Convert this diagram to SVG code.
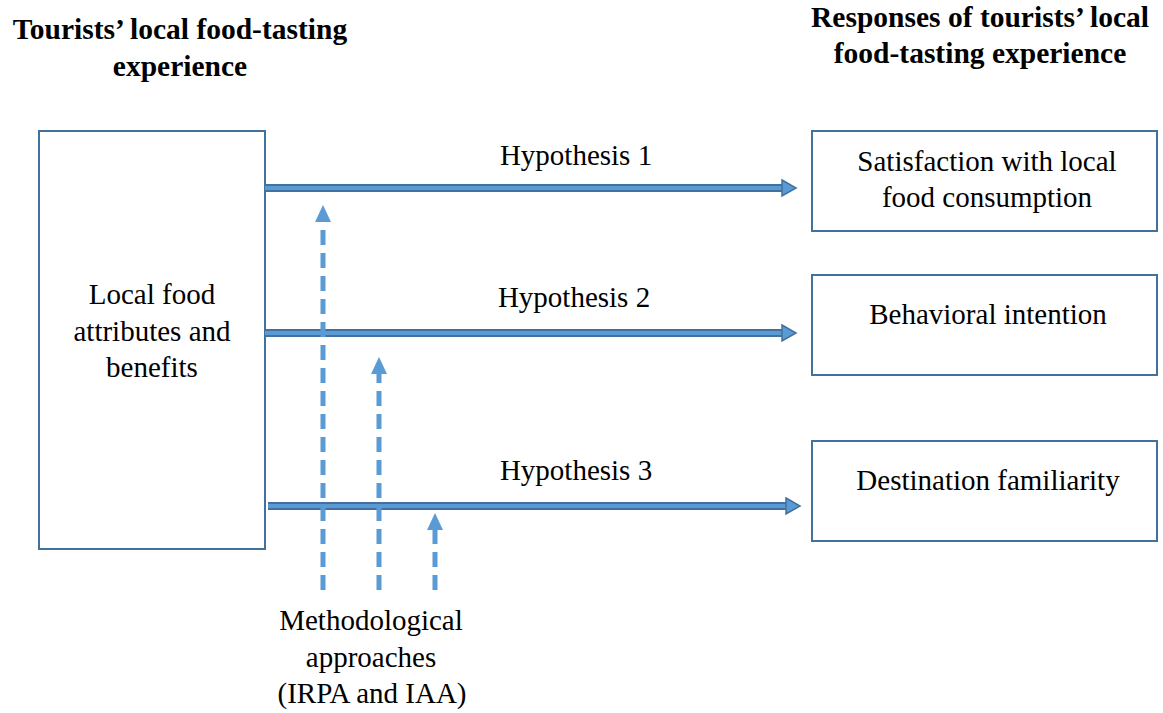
<svg xmlns="http://www.w3.org/2000/svg" width="1163" height="713" viewBox="0 0 1163 713">
<style>
.box{fill:#fff;stroke:#41719C;stroke-width:2}
.t{font-family:"Liberation Serif","Times New Roman",serif;font-size:29px;fill:#000;text-anchor:middle}
.h{font-family:"Liberation Serif","Times New Roman",serif;font-size:29.5px;font-weight:bold;fill:#000;text-anchor:middle}
.outer{stroke:#41719C;stroke-width:8;fill:none}
.inner{stroke:#5B9BD5;stroke-width:4;fill:none}
.head{fill:#5B9BD5;stroke:#41719C;stroke-width:1.5}
.dash{stroke:#5B9BD5;stroke-width:5;stroke-dasharray:15 8;fill:none}
.dhead{fill:#5B9BD5}
</style>
<rect width="1163" height="713" fill="#fff"/>
<g id="heading-left">
<text class="h" x="180" y="39">Tourists’ local food-tasting</text>
<text class="h" x="180" y="76">experience</text>
</g>
<g id="heading-right">
<text class="h" x="980" y="27">Responses of tourists’ local</text>
<text class="h" x="980" y="63">food-tasting experience</text>
</g>
<g id="node-local-food">
<rect class="box" x="39" y="131" width="226" height="418"/>
<text class="t" x="152" y="304">Local food</text>
<text class="t" x="152" y="341">attributes and</text>
<text class="t" x="152" y="377">benefits</text>
</g>
<g id="node-satisfaction">
<rect class="box" x="812" y="131" width="345" height="100"/>
<text class="t" x="987" y="171">Satisfaction with local</text>
<text class="t" x="987" y="207">food consumption</text>
</g>
<g id="node-behavioral">
<rect class="box" x="812" y="275" width="345" height="100"/>
<text class="t" x="988" y="324">Behavioral intention</text>
</g>
<g id="node-familiarity">
<rect class="box" x="812" y="441" width="345" height="100"/>
<text class="t" x="988" y="490">Destination familiarity</text>
</g>
<g id="connectors">
<line class="outer" x1="265" y1="188" x2="782" y2="188"/>
<line class="inner" x1="265" y1="188" x2="784" y2="188"/>
<polygon class="head" points="782,180 796,188 782,196"/>
<line class="outer" x1="265" y1="333" x2="782" y2="333"/>
<line class="inner" x1="265" y1="333" x2="784" y2="333"/>
<polygon class="head" points="782,325 796,333 782,341"/>
<line class="outer" x1="268" y1="506" x2="786" y2="506"/>
<line class="inner" x1="268" y1="506" x2="788" y2="506"/>
<polygon class="head" points="786,498 800,506 786,514"/>
<line class="dash" x1="323" y1="590" x2="323" y2="222"/>
<polygon class="dhead" points="315,222 323,205 331,222"/>
<line class="dash" x1="379" y1="590" x2="379" y2="374"/>
<polygon class="dhead" points="371,374 379,357 387,374"/>
<line class="dash" x1="435" y1="590" x2="435" y2="530"/>
<polygon class="dhead" points="427,530 435,513 443,530"/>
</g>
<g id="labels">
<text class="t" x="576" y="165">Hypothesis 1</text>
<text class="t" x="574" y="307">Hypothesis 2</text>
<text class="t" x="576" y="480">Hypothesis 3</text>
</g>
<g id="node-methods">
<text class="t" x="371" y="630">Methodological</text>
<text class="t" x="371" y="667">approaches</text>
<text class="t" x="372" y="703">(IRPA and IAA)</text>
</g>
</svg>
